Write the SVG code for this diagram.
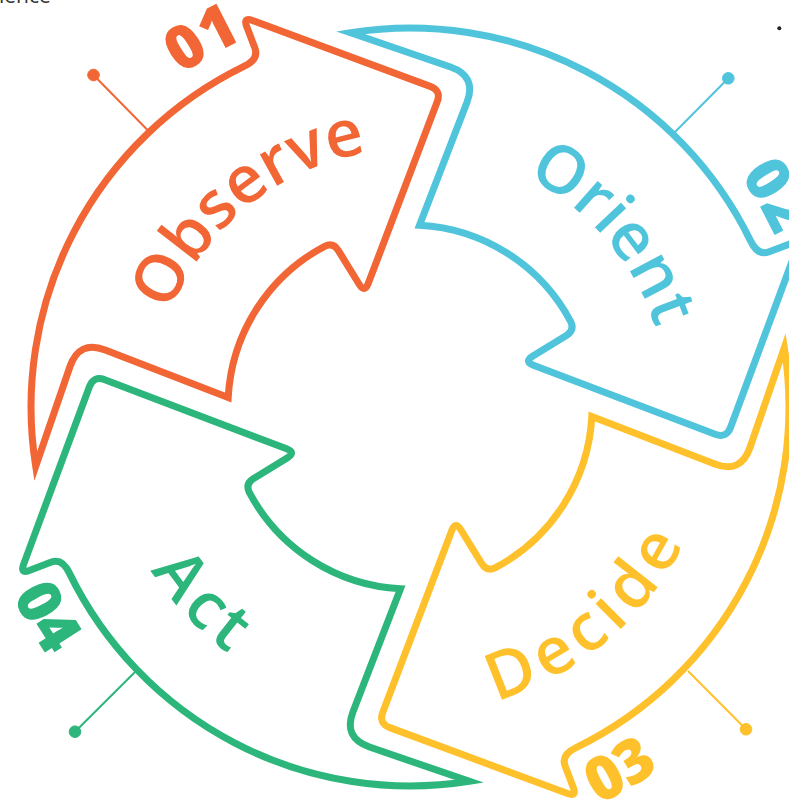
<svg xmlns="http://www.w3.org/2000/svg" xmlns:xlink="http://www.w3.org/1999/xlink" width="789" height="806" viewBox="0 0 789 806">
<style>
.arrow{fill:none;stroke-width:7;stroke-linejoin:miter;stroke-miterlimit:20}
.lbl{font-family:"Open Sans","Liberation Sans",sans-serif;font-weight:600;font-size:66px}
.num{font-family:"Open Sans","Liberation Sans",sans-serif;font-weight:800;font-size:61px}
.pin{stroke-width:2;fill:none}
.o{stroke:#F26535;fill:#F26535}
.b{stroke:#4FC4DB;fill:#4FC4DB}
.y{stroke:#FFC12B;fill:#FFC12B}
.g{stroke:#2DB67C;fill:#2DB67C}
.tO{fill:#F26535}.tB{fill:#4FC4DB}.tY{fill:#FFC12B}.tG{fill:#2DB67C}
</style>
<defs>
<path id="arrow" d="M35.7,466.3 A379,379 0 0 1 243.9,66.4 Q259.2,59.2 254.8,47.8 L246.6,26.3 Q243,17 252.4,20.5 L430.2,86.4 Q441.5,90.6 437.2,101.8 L368.2,283.6 Q364.6,293 359.3,284.5 L338.4,250.6 Q333.1,242.1 324.6,246.3 A182,182 0 0 0 228.2,397.5 L105.2,350 Q79.2,340 70,366.5 Z"/>
<path id="pObserve" d="M155.18,447.36 A258,258 0 0 1 502.46,166.14"/>
<path id="pOrient" d="M362.98,153.32 A258,258 0 0 1 653.2,493.12"/>
<path id="pDecide" d="M307.85,695.45 A306,306 0 0 0 710.87,351.23"/>
<path id="pAct" d="M116.6,320.09 A306,306 0 0 0 481.44,704.55"/>
<path id="p01" d="M62.76,202.46 A403,403 0 0 1 413.52,3.02"/>
<path id="p02" d="M611.5,58 A403,403 0 0 1 813,407"/>
<path id="p03" d="M410,847 A440,440 0 0 0 791.05,627"/>
<path id="p04" d="M-30,407 A440,440 0 0 0 190,788.05"/>
</defs>
<rect width="789" height="806" fill="#fff"/>
<text x="-1" y="3" font-family="Open Sans, Liberation Sans, sans-serif" font-size="21" fill="#333">ience</text>
<circle cx="779.3" cy="28.3" r="2" fill="#222"/>

<g id="connectors">
<line class="pin o" x1="93.5" y1="75" x2="148.5" y2="131"/>
<circle class="o" cx="93.5" cy="75" r="5.8" stroke="none"/>
<line class="pin b" x1="728.3" y1="78.3" x2="675" y2="132"/>
<circle class="b" cx="728.3" cy="78.3" r="5.8" stroke="none"/>
<line class="pin y" x1="746" y1="729.3" x2="688" y2="671"/>
<circle class="y" cx="746" cy="729.3" r="5.8" stroke="none"/>
<line class="pin g" x1="75" y1="731.7" x2="135" y2="672"/>
<circle class="g" cx="75" cy="731.7" r="5.8" stroke="none"/>
</g>

<g id="observe">
<use xlink:href="#arrow" href="#arrow" class="arrow" stroke="#F26535"/>
<text class="lbl tO"><textPath xlink:href="#pObserve" href="#pObserve" startOffset="50%" text-anchor="middle">Observe</textPath></text>
<text class="num tO"><textPath xlink:href="#p01" href="#p01" startOffset="50%" text-anchor="middle">01</textPath></text>
</g>
<g id="orient">
<use xlink:href="#arrow" href="#arrow" class="arrow" stroke="#4FC4DB" transform="rotate(90 410 407)"/>
<text class="lbl tB"><textPath xlink:href="#pOrient" href="#pOrient" startOffset="50%" text-anchor="middle">Orient</textPath></text>
<text class="num tB"><textPath xlink:href="#p02" href="#p02" startOffset="50%" text-anchor="middle">02</textPath></text>
</g>
<g id="decide">
<use xlink:href="#arrow" href="#arrow" class="arrow" stroke="#FFC12B" transform="rotate(180 410 407)"/>
<text class="lbl tY" letter-spacing="7"><textPath xlink:href="#pDecide" href="#pDecide" startOffset="50%" text-anchor="middle">Decide</textPath></text>
<text class="num tY"><textPath xlink:href="#p03" href="#p03" startOffset="50%" text-anchor="middle">03</textPath></text>
</g>
<g id="act">
<use xlink:href="#arrow" href="#arrow" class="arrow" stroke="#2DB67C" transform="rotate(270 410 407)"/>
<text class="lbl tG" letter-spacing="6"><textPath xlink:href="#pAct" href="#pAct" startOffset="50%" text-anchor="middle">Act</textPath></text>
<text class="num tG"><textPath xlink:href="#p04" href="#p04" startOffset="50%" text-anchor="middle">04</textPath></text>
</g>
</svg>
